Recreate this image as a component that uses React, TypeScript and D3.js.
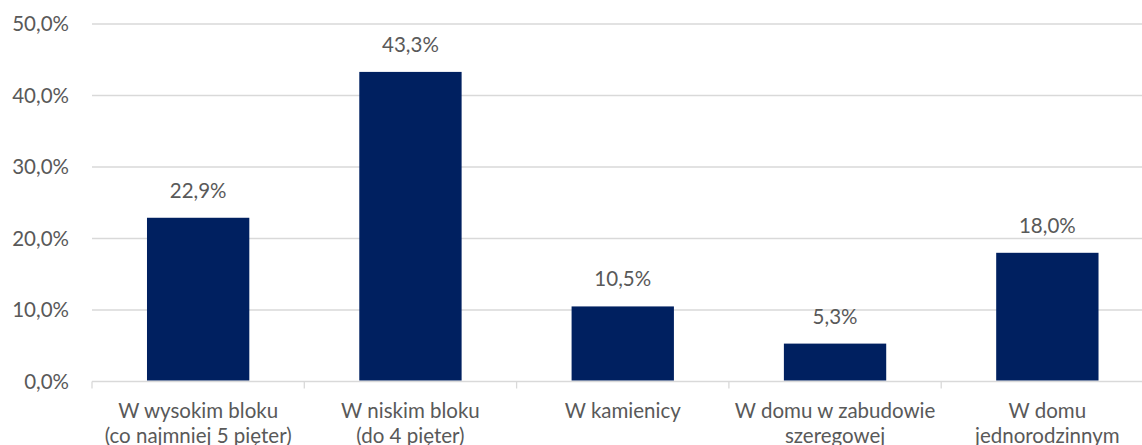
import React from "react";
import * as d3 from "d3";

const categories: string[][] = [
  ["W wysokim bloku", "(co najmniej 5 pięter)"],
  ["W niskim bloku", "(do 4 pięter)"],
  ["W kamienicy"],
  ["W domu w zabudowie", "szeregowej"],
  ["W domu", "jednorodzinnym"],
];
const values: number[] = [22.9, 43.3, 10.5, 5.3, 18.0];
const yTicks: number[] = [0, 10, 20, 30, 40, 50];

const W = 1142;
const H = 445;
const FONT = "Lato, Carlito, Calibri, sans-serif";
const TEXT = "#595959";
const FS = 20.5;

export default function App() {
  const left = 92;
  const catW = 212.3;
  const x = d3
    .scaleBand<number>()
    .domain(d3.range(categories.length))
    .range([left, left + catW * categories.length])
    .paddingInner(0.518)
    .paddingOuter(0.259);
  const y = d3.scaleLinear().domain([0, 50]).range([381.5, 24]);
  const fmt = (v: number) => v.toFixed(1).replace(".", ",") + "%";

  return (
    <svg
      width={W}
      height={H}
      style={{ position: "absolute", left: 0, top: 0, background: "#fff" }}
      fontFamily={FONT}
    >
      {yTicks.map((t) => (
        <g key={t}>
          <line
            x1={left}
            x2={W}
            y1={y(t)}
            y2={y(t)}
            stroke="#d9d9d9"
            strokeWidth={1.3}
          />
          <text
            x={69}
            y={y(t)}
            dy="0.35em"
            textAnchor="end"
            fontSize={FS}
            fill={TEXT}
          >
            {fmt(t)}
          </text>
        </g>
      ))}
      {d3.range(categories.length + 1).map((i) => (
        <line
          key={i}
          x1={left + i * catW}
          x2={left + i * catW}
          y1={y(0)}
          y2={y(0) + 7}
          stroke="#d9d9d9"
          strokeWidth={1.3}
        />
      ))}
      {values.map((v, i) => (
        <g key={i}>
          <rect
            x={x(i)}
            y={y(v)}
            width={x.bandwidth()}
            height={y(0) - y(v) - 1}
            fill="#002060"
          />
          <text
            x={(x(i) as number) + x.bandwidth() / 2}
            y={y(v) - 20}
            textAnchor="middle"
            fontSize={FS}
            fill={TEXT}
          >
            {fmt(v)}
          </text>
          {categories[i].map((line, j) => (
            <text
              key={j}
              x={(x(i) as number) + x.bandwidth() / 2}
              y={418 + j * 25}
              textAnchor="middle"
              fontSize={FS}
              fill={TEXT}
            >
              {line}
            </text>
          ))}
        </g>
      ))}
    </svg>
  );
}
